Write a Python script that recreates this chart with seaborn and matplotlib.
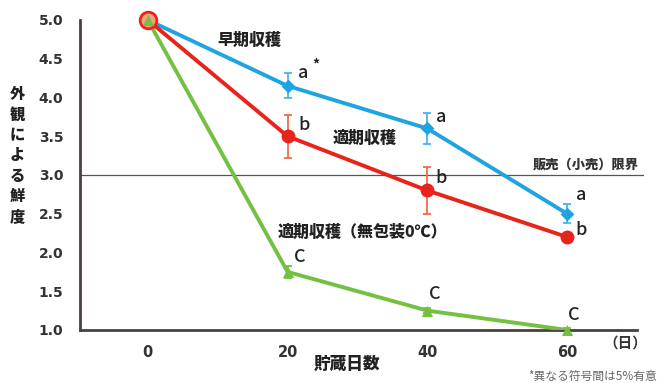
import numpy as np
import pandas as pd
import matplotlib
matplotlib.use("Agg")
import matplotlib.pyplot as plt
import seaborn as sns

# storage days and appearance freshness scores
days = [0, 20, 40, 60]
early = [5.0, 4.15, 3.6, 2.5]
early_err = [0.0, 0.16, 0.2, 0.12]
optimal = [5.0, 3.5, 2.8, 2.2]
optimal_err = [0.0, 0.28, 0.3, 0.05]
bare = [5.0, 1.75, 1.25, 1.0]
bare_err = [0.0, 0.08, 0.03, 0.02]
series_names = ["早期収穫", "適期収穫", "適期収穫（無包装0℃）"]
y_ticks = [1.0, 1.5, 2.0, 2.5, 3.0, 3.5, 4.0, 4.5, 5.0]
x_ticks = [0, 20, 40, 60]
limit_value = 3.0

sns.set_theme(style="white")
plt.rcParams["font.family"] = ["Noto Sans CJK JP", "DejaVu Sans"]

colors = {"早期収穫": "#1ea4e0", "適期収穫": "#e8231b", "適期収穫（無包装0℃）": "#74c043"}
err_colors = {"早期収穫": "#4ab4ea", "適期収穫": "#f06a4a", "適期収穫（無包装0℃）": "#74c043"}
markers = {"早期収穫": "D", "適期収穫": "o", "適期収穫（無包装0℃）": "^"}
msizes = {"早期収穫": 7, "適期収穫": 10, "適期収穫（無包装0℃）": 8}

df = pd.DataFrame({
    "day": days * 3,
    "score": early + optimal + bare,
    "err": early_err + optimal_err + bare_err,
    "series": [series_names[0]] * 4 + [series_names[1]] * 4 + [series_names[2]] * 4,
})

fig = plt.figure(figsize=(6.58, 3.83), dpi=100)
ax = fig.add_axes([0.1216, 0.1384, 0.8465, 0.8094])

# threshold line for retail sale limit
ax.plot([0, 1.01], [limit_value, limit_value], transform=ax.get_yaxis_transform(),
        color="#555555", lw=0.9, clip_on=False, zorder=1)

for name in series_names:
    sub = df[df["series"] == name]
    sns.lineplot(data=sub, x="day", y="score", ax=ax, color=colors[name], lw=2.8,
                 marker=None, legend=False, zorder=3)
    ax.errorbar(sub["day"], sub["score"], yerr=sub["err"], fmt="none",
                ecolor=err_colors[name], elinewidth=1.3, capsize=3, capthick=1.3, zorder=4)
    ax.scatter(sub["day"], sub["score"], marker=markers[name], s=msizes[name] ** 2,
               color=colors[name], zorder=5, clip_on=False, linewidths=0)

# start point: red circle beneath the green triangle
ax.scatter([0], [5.0], marker="o", s=12 ** 2, facecolor="#f4a080", edgecolor="#e8231b",
           linewidth=2, zorder=6, clip_on=False)
ax.scatter([0], [5.0], marker="^", s=8 ** 2, color="#74c043", zorder=7, clip_on=False, linewidths=0)

ax.set_xlim(-9.7, 70)
ax.set_ylim(1.0, 5.0)
ax.set_yticks(y_ticks)
ax.set_yticklabels([f"{v:.1f}" for v in y_ticks], fontsize=10, fontweight="bold", color="#333333",
                   family="DejaVu Sans")
ax.set_xticks(x_ticks)
ax.set_xticklabels([str(v) for v in x_ticks], fontsize=10.5, fontweight="bold", color="#333333",
                   family="DejaVu Sans")
ax.tick_params(axis="y", direction="in", length=4, width=1.2, color="#4a4040", pad=12)
ax.tick_params(axis="x", length=0, pad=11)
ax.set_xlabel("")
ax.set_ylabel("")
for s in ["top", "right"]:
    ax.spines[s].set_visible(False)
for s in ["left", "bottom"]:
    ax.spines[s].set_color("#4a4040")
    ax.spines[s].set_linewidth(2)

lbl = dict(fontsize=11.5, fontweight="heavy", color="#222222", ha="center", va="center")
ax.text(14.6, 4.74, "早期収穫", **lbl)
ax.text(31.0, 3.48, "適期収穫", **lbl)
ax.text(30.7, 2.26, "適期収穫（無包装0℃）", **lbl)
ax.text(70.3, 3.13, "販売（小売）限界", fontsize=9.5, fontweight="heavy", color="#333333",
        ha="right", va="center", clip_on=False)

letter = dict(fontsize=13, fontweight="medium", color="#222222", ha="center", va="center")
ax.text(22.3, 4.31, "a", **letter)
ax.text(24.1, 4.43, "*", fontsize=10, fontweight="bold", color="#222222", ha="center", va="center")
ax.text(42.0, 3.75, "a", **letter)
ax.text(62.0, 2.74, "a", **letter)
ax.text(22.4, 3.65, "b", **letter)
ax.text(42.0, 2.96, "b", **letter)
ax.text(62.0, 2.29, "b", **letter)
ax.text(21.7, 1.94, "C", **letter)
ax.text(41.0, 1.46, "C", **letter)
ax.text(61.0, 1.19, "C", **letter, clip_on=False)

fig.text(625 / 658, 1 - 343 / 383, "（日）", fontsize=10.5, fontweight="bold", color="#333333",
         ha="center", va="center")
fig.text(347 / 658, 1 - 364 / 383, "貯蔵日数", fontsize=12, fontweight="heavy", color="#222222",
         ha="center", va="center")
fig.text(657 / 658, 1 - 376 / 383, "*異なる符号間は5%有意", fontsize=8.5, color="#666666",
         ha="right", va="center")

ylab = "外観による鮮度"
for i, ch in enumerate(ylab):
    fig.text(17 / 658, 1 - (95 + i * 20.3) / 383, ch, fontsize=11, fontweight="heavy",
             color="#222222", ha="center", va="center")

fig.savefig("out.png", dpi=100)
